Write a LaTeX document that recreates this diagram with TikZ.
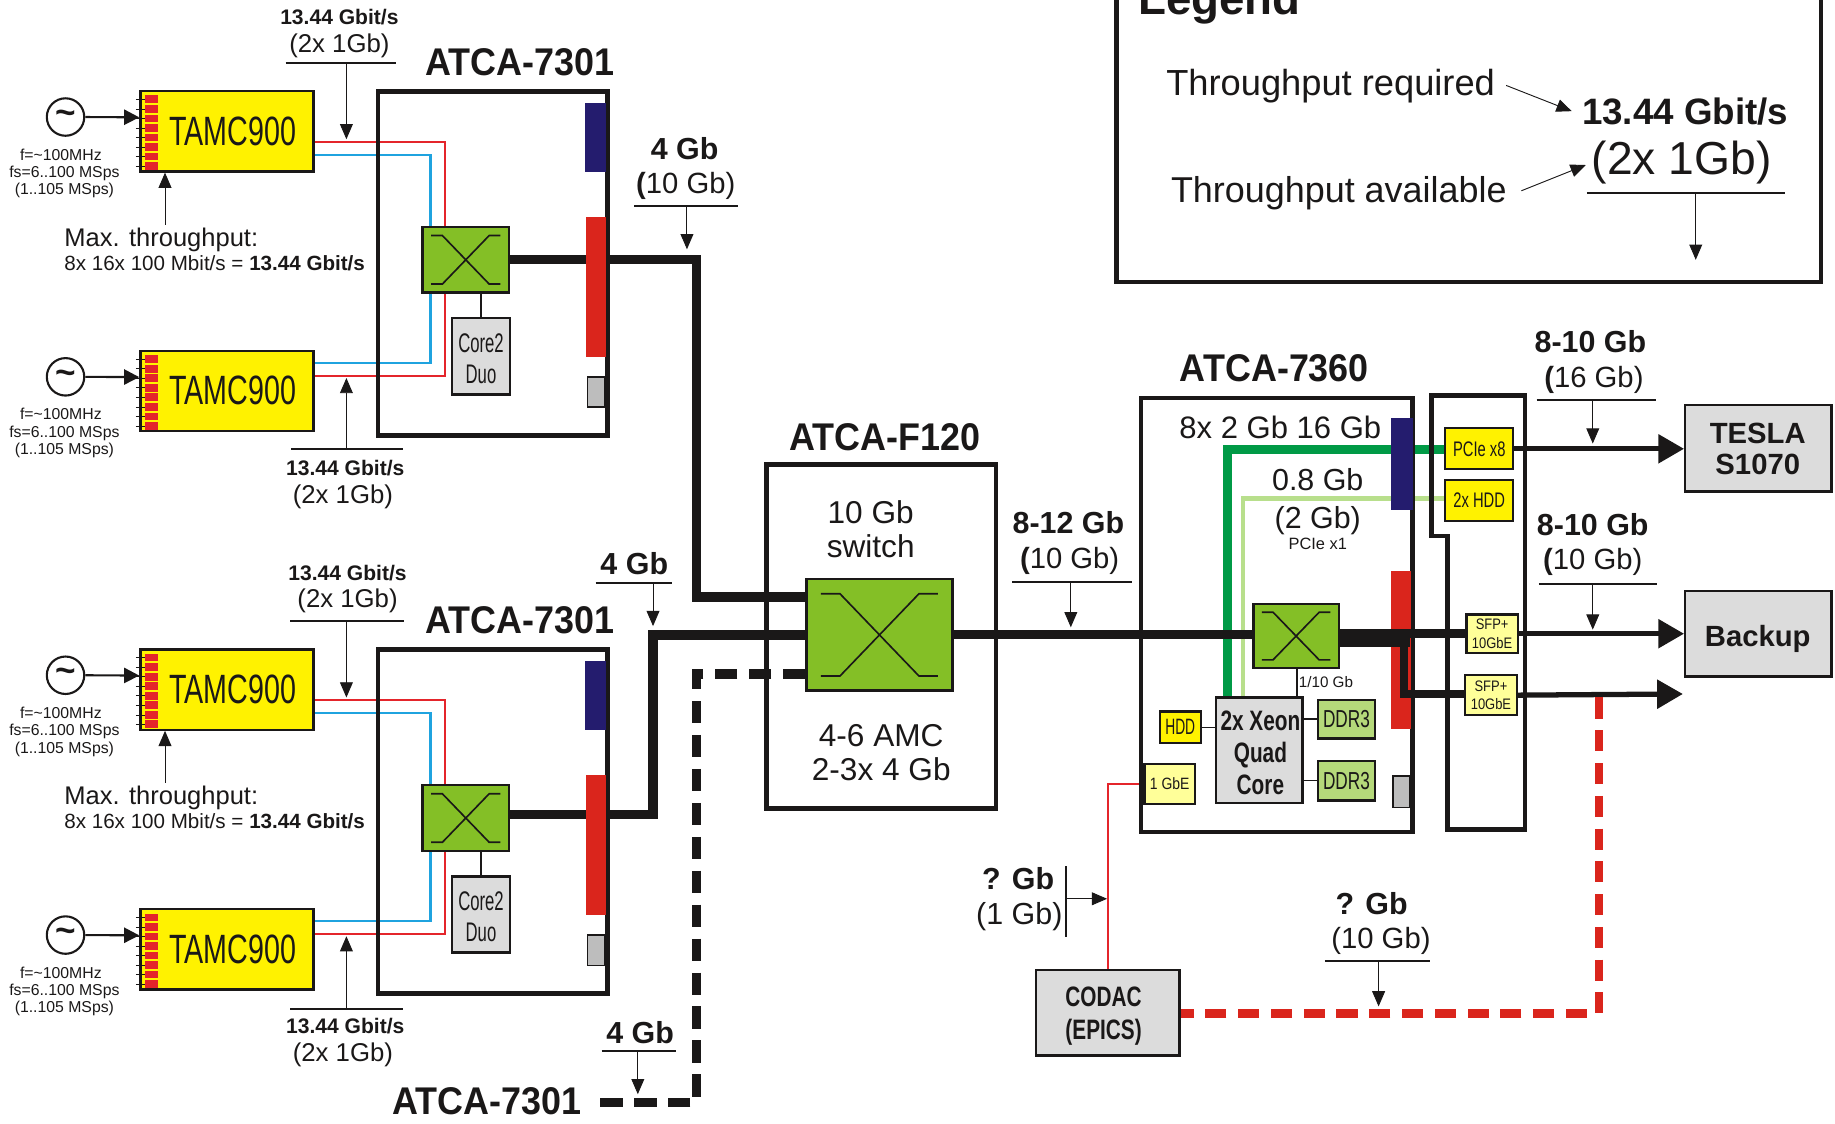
\documentclass[tikz,border=0pt]{standalone}
\usepackage{fontspec}
\setmainfont{Liberation Sans}
\usetikzlibrary{arrows.meta,backgrounds,calc}
\newfontfamily\rn{Liberation Sans}
\newfontfamily\rc[FakeStretch=.85]{Liberation Sans}
\newfontfamily\rcc[FakeStretch=.7]{Liberation Sans}
\newfontfamily\rccc[FakeStretch=.62]{Liberation Sans}
\newfontfamily\bcf[FakeStretch=.74]{Liberation Sans}
\newfontfamily\btf[FakeStretch=.93]{Liberation Sans}
\newcommand\bn{\rn\bfseries}
\newcommand\bc{\bcf\bfseries}
\newcommand\bt{\btf\bfseries}
\definecolor{cYel}{HTML}{FFF200}
\definecolor{cLYel}{HTML}{FFFF99}
\definecolor{cGrn}{HTML}{84BF26}
\definecolor{cDdr}{HTML}{B5D97A}
\definecolor{cRed}{HTML}{E4252B}
\definecolor{cBlu}{HTML}{1FA3DF}
\definecolor{cNavy}{HTML}{241C6E}
\definecolor{cBar}{HTML}{DA251C}
\definecolor{cGray}{HTML}{DCDCDC}
\definecolor{cMid}{HTML}{BDBDBD}
\definecolor{cDG}{HTML}{009A46}
\definecolor{cLG}{HTML}{B8DF8C}
\definecolor{cInk}{HTML}{1A1818}
\tikzset{
  txt/.style={inner sep=0pt,outer sep=0pt,align=center,text=cInk},
  card/.style={inner sep=0pt,align=center,text=cInk,draw=cInk},
  atcabox/.style={card,line width=4pt},
  tamcbox/.style={card,line width=2pt,fill=cYel},
  swbox/.style={card,line width=2pt,fill=cGrn},
  graybox/.style={card,line width=2pt,fill=cGray},
  yelbox/.style={card,line width=2pt,fill=cYel},
  lyelbox/.style={card,line width=2pt,fill=cLYel},
  ddrbox/.style={card,line width=2pt,fill=cDdr},
  srcnode/.style={circle,draw=cInk,line width=1.8pt,inner sep=0pt,minimum size=32pt,text=cInk},
  thinarr/.style={draw=cInk,line width=.8pt,-{Triangle[length=13pt,width=11pt]}},
  srcarr/.style={draw=cInk,line width=1.8pt,-{Triangle[length=13pt,width=13pt]}},
  bigarr/.style={draw=cInk,line width=4.5pt,-{Triangle[length=22pt,width=24pt]}},
  rule/.style={draw=cInk,line width=1.6pt},
  plain/.style={draw=cInk,line width=1.4pt},
  thickline/.style={draw=cInk,line width=8pt},
  sline/.style={line width=2pt},
}
\newcommand\BOX[7][]{\node[#2,minimum width={(#5-#3)*1pt},minimum height={(#6-#4)*1pt}] (#1) at ({(#3+#5)/2},{(#4+#6)/2}) {#7};}
\newcommand\T[5][\rn]{\node[txt,font=#1\fontsize{#4}{#4}\selectfont] (#2) at (#3) {#5};}
\newcommand\TP[6]{\coordinate (#1L) at (#2,#4);\coordinate (#1R) at (#3,#4);
  \coordinate (#1S) at (#5,#4);\coordinate (#1E) at (#5,#6);
  \draw[rule] (#1L)--(#1R);\draw[thinarr] (#1S)--(#1E);}
\newcommand\XS[3]{\begin{scope}[shift={(#1.center)}]
 \draw[draw=cInk,line width=1.4pt] ({-.8*#2},{-.74*#3})--({-.54*#2},{-.74*#3})--({.54*#2},{.74*#3})--({.8*#2},{.74*#3});
 \draw[draw=cInk,line width=1.4pt] ({-.8*#2},{.74*#3})--({-.54*#2},{.74*#3})--({.54*#2},{-.74*#3})--({.8*#2},{-.74*#3});
\end{scope}}
\newcommand\PADS[1]{\foreach \i in {0,...,7}{
  \draw[draw=cInk,line width=.7pt] (116,{#1+7+8.15*\i})--(124,{#1+7+8.15*\i});
  \fill[fill=cRed] (124,{#1+3.6+8.15*\i}) rectangle (135,{#1+10.2+8.15*\i});}}
\newcommand\SRC[2]{%
  \node[srcnode] (#1src) at (56,#2+22) {\rn\bfseries\fontsize{30}{30}\selectfont\raisebox{-1pt}{\symbol{126}}};
  \BOX[#1tamc]{tamcbox}{120}{#2}{268}{#2+68.5}{}
  \PADS{#2}
  \T[\rcc]{#1tamctxt}{199,#2+34}{35}{TAMC900}
  \draw[srcarr] (#1src.east)--([yshift=12pt]#1tamc.west);
  \T{#1fa}{52,#2+54}{13.5}{f=\symbol{126}100MHz}
  \T{#1fb}{55,#2+70}{13.5}{fs=6..100 MSps}
  \T{#1fc}{55,#2+85}{13.5}{(1..105 MSps)}
}
\newcommand\BLOCK[2]{\begin{scope}[shift={(0,#2)}]
  \SRC{#1u}{78}
  \SRC{#1l}{300}
  \BOX[#1box]{atcabox}{323}{78}{519}{372}{}
  \T[\bt]{#1title}{444,53}{33}{ATCA-7301}
  \BOX[#1sw]{swbox}{361}{194}{435}{250}{}
  \XS{#1sw}{37}{28}
  \BOX[#1cpu]{graybox}{386}{272}{436}{337}{}
  \T[\rccc]{#1cpa}{411,293}{23}{Core2}
  \T[\rccc]{#1cpb}{411,320}{23}{Duo}
  \BOX[#1nav]{draw=none,fill=cNavy}{500}{88}{518}{147}{}
  \BOX[#1rbar]{draw=none,fill=cBar}{501}{185}{518}{305}{}
  \BOX[#1gbar]{draw=cInk,line width=1.5pt,fill=cMid}{502}{322}{517}{348}{}
  \begin{pgfonlayer}{background}
   \draw[sline,draw=cRed] ([yshift=-9pt]#1utamc.east) -| ([xshift=-18pt]#1sw.north);
   \draw[sline,draw=cBlu] ([yshift=-20pt]#1utamc.east) -| ([xshift=-30pt]#1sw.north);
   \draw[sline,draw=cBlu] ([yshift=24pt]#1ltamc.east) -| ([xshift=-30pt]#1sw.south);
   \draw[sline,draw=cRed] ([yshift=13pt]#1ltamc.east) -| ([xshift=-18pt]#1sw.south);
   \draw[plain] (#1sw.south-|#1cpu.north)--(#1cpu.north);
  \end{pgfonlayer}
  \coordinate (#1mS) at (141,192);
  \draw[thinarr] (#1mS)--(#1mS|-#1utamc.south);
  \node[txt,anchor=west,font=\rn\fontsize{21.8}{22}\selectfont] (#1ma) at (55,205) {Max. throughput:};
  \node[txt,anchor=west,font=\rn\fontsize{17.6}{18}\selectfont] (#1mb) at (55,225) {8x 16x 100 Mbit/s = {\bn 13.44 Gbit/s}};
\end{scope}}

\begin{document}
\begin{tikzpicture}[x=1pt,y=-1pt]
\useasboundingbox (0,0) rectangle (1568,960.4);
\clip (0,0) rectangle (1568,960.4);

\BLOCK{a}{0}
\BLOCK{b}{477}

\T[\bn]{t1a}{290,15}{18}{13.44 Gbit/s}
\T{t1b}{290,39.5}{22}{(2x 1Gb)}
\TP{p1}{244}{338}{54}{296}{119}
\T[\bn]{t2a}{295,400}{18}{13.44 Gbit/s}
\T{t2b}{293,424.5}{22}{(2x 1Gb)}
\TP{p2}{249}{344}{384}{296}{323}
\T[\bn]{t3a}{297,490}{18}{13.44 Gbit/s}
\T{t3b}{297,513.5}{22}{(2x 1Gb)}
\TP{p3}{248}{345}{531}{296}{596}
\T[\bn]{t4a}{295,877}{18}{13.44 Gbit/s}
\T{t4b}{293,901.5}{22}{(2x 1Gb)}
\TP{p4}{248}{344}{862}{296}{800}

\BOX[fbox]{atcabox}{655}{397}{851}{691}{}
\T[\bt]{ftitle}{756,374}{33}{ATCA-F120}
\T{fa}{744,438}{27}{10 Gb}
\T{fb}{744,467}{27}{switch}
\T{fc}{753,629}{27}{4-6 AMC}
\T{fd}{753,657}{27}{2-3x 4 Gb}
\BOX[big]{swbox}{689}{495}{814}{590}{}
\XS{big}{62.5}{47.5}

\coordinate (tbend) at (595,510);
\coordinate (bbend) at (558,696);
\coordinate (dbend) at (595,942);
\coordinate (atl) at (510,942);
\begin{pgfonlayer}{background}
 \draw[thickline] (asw.east) -- (asw.east-|tbend) -- (tbend) -- ([yshift=32.5pt]big.west);
 \draw[thickline] ([yshift=3pt]bsw.east) -- (bbend) -- (bbend|-big.west) -- (big.west);
 \draw[thickline,dash pattern=on 19pt off 10pt] ([yshift=-33.5pt]big.west) -- ([yshift=-33.5pt]big.west-|dbend) -- (dbend) -- (atl);
\end{pgfonlayer}

\T[\bn]{l1a}{585,127}{26}{4 Gb}
\T{l1b}{586,159}{25}{{\bn(}10 Gb)}
\TP{l1}{542}{631}{176}{587}{213}
\T[\bn]{l2a}{542,482}{26}{4 Gb}
\TP{l2}{509}{574}{498}{558}{535}
\T[\bn]{l3a}{547,882}{26}{4 Gb}
\TP{l3}{514}{578}{898}{545}{935}
\T[\bt]{atcc}{416,941}{33}{ATCA-7301}

\BOX[cbox]{atcabox}{975}{340}{1207}{711}{}
\T[\bt]{ctitle}{1089,315}{33}{ATCA-7360}
\T{ca}{1094,365}{26.5}{8x 2 Gb 16 Gb}
\T{cb}{1126,410}{26}{0.8 Gb}
\T{cc}{1126,445}{26}{(2 Gb)}
\T{cd}{1126,465}{14}{PCIe x1}
\BOX[csw]{swbox}{1071}{516}{1144}{571}{}
\XS{csw}{36.5}{27.5}
\BOX[xeon]{graybox}{1039}{596}{1113}{686}{}
\T[\bc]{xa}{1077,616}{24}{2x Xeon}
\T[\bc]{xb}{1077,645}{24}{Quad}
\T[\bc]{xc}{1077,671}{24}{Core}
\BOX[hdd]{yelbox,font=\rccc\fontsize{19}{19}\selectfont}{991}{608}{1026}{635}{HDD}
\BOX[ddra]{ddrbox,font=\rcc\fontsize{21}{21}\selectfont}{1126}{598}{1175}{631}{DDR3}
\BOX[ddrb]{ddrbox,font=\rcc\fontsize{21}{21}\selectfont}{1126}{650}{1175}{684}{DDR3}
\BOX[gbe]{lyelbox,font=\rc\fontsize{14}{14}\selectfont}{978}{653}{1021}{687}{1 GbE}
\T{ce}{1133,583}{13}{1/10 Gb}

\BOX[nav]{draw=none,fill=cNavy}{1189}{357}{1207}{436}{}
\BOX[rbar]{draw=none,fill=cBar}{1189}{488}{1206}{623}{}
\BOX[gbar]{draw=cInk,line width=1.5pt,fill=cMid}{1190}{663}{1205}{690}{}

\draw[draw=cInk,line width=4pt] (1223,338)--(1303,338)--(1303,709)--(1237,709)--(1237,458)--(1223,458)--cycle;
\BOX[pcie]{yelbox,font=\rcc\fontsize{18}{18}\selectfont}{1235}{366}{1293}{401}{PCIe x8}
\BOX[hddb]{yelbox,font=\rcc\fontsize{18}{18}\selectfont}{1235}{410}{1293}{445}{2x HDD}
\BOX[sfa]{lyelbox,font=\rc\fontsize{13}{15.5}\selectfont}{1253}{525}{1297}{558}{SFP+\\10GbE}
\BOX[sfb]{lyelbox,font=\rc\fontsize{13}{15.5}\selectfont}{1252}{577}{1296}{611}{SFP+\\10GbE}

\begin{pgfonlayer}{background}
 \coordinate (gc) at (1049,384);
 \coordinate (lc) at (1062,426);
 \draw[draw=cDG,line width=8pt] (gc|-xeon.north) -- (gc) -- (gc-|pcie.west);
 \draw[draw=cLG,line width=4pt] (lc|-xeon.north) -- (lc) -- (lc-|hddb.west);
 \draw[plain] (1108,571)--(1108,596);
 \draw[plain] (hdd.east)--(hdd.east-|xeon.west);
 \draw[plain] (xeon.east|-ddra.west)--(ddra.west);
 \draw[plain] (xeon.east|-ddrb.west)--(ddrb.west);
 \draw[draw=cRed,line width=1.6pt] (gbe.west) -| (947,829);
\end{pgfonlayer}
\coordinate (br) at (1200,593);
\draw[draw=cInk,line width=7.5pt] (big.east)--(big.east-|csw.west);
\draw[draw=cInk,line width=8pt] (sfa.west) -- (sfa.west-|csw.east);
\draw[draw=cInk,line width=7pt] (1144,549)--(1205,549);
\draw[draw=cInk,line width=7pt] (1200,549)--(br)--(sfb.west|-br);

\BOX[tesla]{graybox}{1440}{346}{1565}{420}{}
\T[\bn]{tla}{1502,370}{25}{TESLA}
\T[\bn]{tlb}{1502,397}{25}{S1070}
\BOX[backup]{graybox}{1440}{505}{1565}{578}{}
\T[\bn]{bku}{1502,546}{25}{Backup}
\coordinate (fr) at (1438,593);
\draw[bigarr] (pcie.east) -- (pcie.east-|tesla.west);
\draw[bigarr] (sfa.east) -- (sfa.east-|backup.west);
\draw[bigarr] (sfb.east) -- (fr);

\T[\bn]{ra}{1359,292}{26}{8-10 Gb}
\T{rb}{1362,325}{25}{{\bn(}16 Gb)}
\TP{r1}{1313}{1415}{342}{1361}{379}
\T[\bn]{rc2}{1361,448}{26}{8-10 Gb}
\T{rd}{1361,480}{25}{{\bn(}10 Gb)}
\TP{r2}{1315}{1416}{499}{1361}{538}
\T[\bn]{ma}{913,447}{26}{8-12 Gb}
\T{mb}{914,479}{25}{{\bn(}10 Gb)}
\TP{m1}{865}{967}{497}{915}{536}

\BOX[codac]{graybox}{885}{829}{1008}{902}{}
\T[\bc]{ca2}{943,852}{24}{CODAC}
\T[\bc]{cb2}{943,882}{24}{(EPICS)}
\coordinate (rd) at (1366,866);
\draw[draw=cBar,line width=7pt,dash pattern=on 18pt off 10pt] (1366,596) -- (rd) -- (codac.east|-rd);
\T[\bn]{qa}{870,751}{26}{? Gb}
\T{qb}{871,783}{26}{(1 Gb)}
\coordinate (qt) at (911,740);\coordinate (qd) at (911,801);\coordinate (qm) at (911,768);\coordinate (qe) at (946,768);
\draw[rule] (qt)--(qd);
\draw[thinarr] (qm)--(qe);
\T[\bn]{qc}{1172,772}{26}{? Gb}
\T{qd2}{1180,804}{25}{(10 Gb)}
\TP{q1}{1132}{1222}{821}{1178}{860}

\BOX[leg]{atcabox}{954}{-20}{1556}{241}{}
\T[\bn]{la}{1042,2}{39}{Legend}
\T{lb}{1137,74}{31}{Throughput required}
\T{lc2}{1144,165}{30.7}{Throughput available}
\T[\bn]{ld}{1440,95}{31.4}{13.44 Gbit/s}
\T{le}{1437,139}{39.5}{(2x 1Gb)}
\coordinate (la1) at (1287,73);\coordinate (la2) at (1343,95);
\coordinate (lb1) at (1300,163);\coordinate (lb2) at (1355,141);
\draw[thinarr] (la1)--(la2);
\draw[thinarr] (lb1)--(lb2);
\TP{ll}{1356}{1525}{165}{1449}{222}
\end{tikzpicture}
\end{document}
